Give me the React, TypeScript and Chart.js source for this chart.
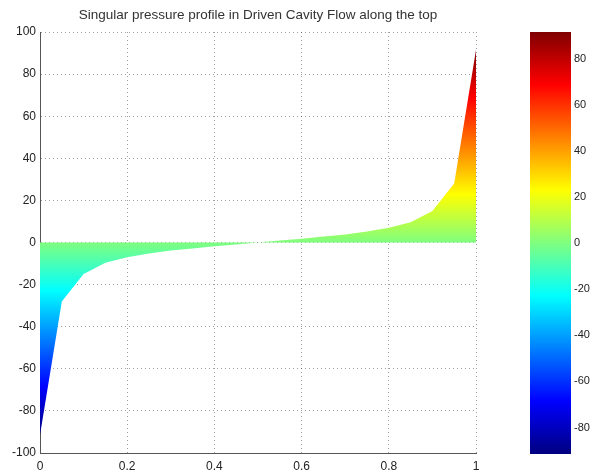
import React, { useEffect, useRef } from 'react';
import { Chart, registerables } from 'chart.js';

Chart.register(...registerables);

const titleText = 'Singular pressure profile in Driven Cavity Flow along the top';

// position along the lid (x) and pressure value
const positions = [0, 0.05, 0.1, 0.15, 0.2, 0.25, 0.3, 0.35, 0.4, 0.45, 0.5, 0.55, 0.6, 0.65, 0.7, 0.75, 0.8, 0.85, 0.9, 0.95, 1];
const pressure = [-91.5, -28, -15, -9.6, -7, -5.2, -3.8, -2.8, -1.8, -0.9, 0, 0.9, 1.8, 2.8, 3.8, 5.2, 7, 9.6, 15, 28, 91.5];

const xTicks = [0, 0.2, 0.4, 0.6, 0.8, 1];
const yTicks = [-100, -80, -60, -40, -20, 0, 20, 40, 60, 80, 100];
const colorbarTicks = [-80, -60, -40, -20, 0, 20, 40, 60, 80];

const jetStops: [number, string][] = [
  [0, '#000080'],
  [0.125, '#0000ff'],
  [0.375, '#00ffff'],
  [0.625, '#ffff00'],
  [0.875, '#ff0000'],
  [1, '#800000'],
];

const FONT = 'Liberation Sans, Arial, Helvetica, sans-serif';
const TEXT = '#222';

export default function App() {
  const mainRef = useRef<HTMLCanvasElement>(null);
  const barRef = useRef<HTMLCanvasElement>(null);

  useEffect(() => {
    const cmin = Math.min(...pressure);
    const cmax = Math.max(...pressure);

    const jet = (chart: any) => {
      const { ctx, chartArea, scales } = chart;
      if (!chartArea) return 'rgba(0,0,0,0)';
      const y = scales.y;
      const g = ctx.createLinearGradient(0, y.getPixelForValue(cmin), 0, y.getPixelForValue(cmax));
      jetStops.forEach(([p, c]) => g.addColorStop(p, c));
      return g;
    };

    const main = new Chart(mainRef.current!, {
      type: 'line',
      data: {
        datasets: [
          {
            data: positions.map((x, i) => ({ x, y: pressure[i] })),
            fill: 'origin',
            backgroundColor: (c: any) => jet(c.chart),
            borderWidth: 0,
            borderColor: 'rgba(0,0,0,0)',
            pointRadius: 0,
            tension: 0,
          },
        ],
      },
      options: {
        responsive: false,
        animation: false,
        layout: { padding: { left: 0, right: 24, top: 0, bottom: 0 } },
        plugins: {
          legend: { display: false },
          tooltip: { enabled: false },
          title: {
            display: true,
            text: titleText,
            fullSize: false,
            color: '#333',
            font: { family: FONT, size: 13.5, weight: 'normal' },
            padding: { top: 7, bottom: 8.8 },
          },
        },
        scales: {
          x: {
            type: 'linear',
            min: 0,
            max: 1,
            afterBuildTicks: (s: any) => {
              s.ticks = xTicks.map((v) => ({ value: v }));
            },
            afterFit: (s: any) => {
              s.height = 21;
            },
            ticks: {
              color: TEXT,
              font: { family: FONT, size: 12 },
              padding: 6,
              autoSkip: false,
              maxRotation: 0,
              callback: (v: any) => String(v),
            },
            grid: { color: 'rgba(0,0,0,0.38)', drawTicks: false },
            border: { display: true, color: '#555', width: 1, dash: [1, 3] },
          },
          y: {
            type: 'linear',
            min: -100,
            max: 100,
            afterBuildTicks: (s: any) => {
              s.ticks = yTicks.map((v) => ({ value: v }));
            },
            afterFit: (s: any) => {
              s.width = 40;
            },
            ticks: { color: TEXT, font: { family: FONT, size: 12 }, padding: 4, callback: (v: any) => String(v) },
            grid: { color: 'rgba(0,0,0,0.38)', drawTicks: false },
            border: { display: true, color: '#555', width: 1, dash: [1, 3] },
          },
        },
      },
    } as any);

    const bar = new Chart(barRef.current!, {
      type: 'bar',
      data: {
        labels: ['colorbar'],
        datasets: [
          {
            data: [[cmin, cmax]],
            backgroundColor: (c: any) => jet(c.chart),
            borderWidth: 0,
            barPercentage: 1,
            categoryPercentage: 1,
          },
        ],
      },
      options: {
        responsive: false,
        animation: false,
        layout: { padding: { left: 30, right: 0, top: 32, bottom: 20 } },
        plugins: { legend: { display: false }, tooltip: { enabled: false }, title: { display: false } },
        scales: {
          x: { type: 'category', display: false },
          y: {
            type: 'linear',
            position: 'right',
            min: cmin,
            max: cmax,
            afterBuildTicks: (s: any) => {
              s.ticks = colorbarTicks.map((v) => ({ value: v }));
            },
            afterFit: (s: any) => {
              s.width = 25;
            },
            ticks: { color: TEXT, font: { family: FONT, size: 11 }, padding: 3, callback: (v: any) => String(v) },
            grid: { display: false, drawTicks: false },
            border: { display: false },
          },
        },
      },
    } as any);

    return () => {
      main.destroy();
      bar.destroy();
    };
  }, []);

  return (
    <div style={{ position: 'fixed', left: 0, top: 0, width: 596, height: 474, background: '#fff' }}>
      <canvas ref={mainRef} width={500} height={474} style={{ position: 'absolute', left: 0, top: 0 }} />
      <canvas ref={barRef} width={96} height={474} style={{ position: 'absolute', left: 500, top: 0 }} />
    </div>
  );
}
